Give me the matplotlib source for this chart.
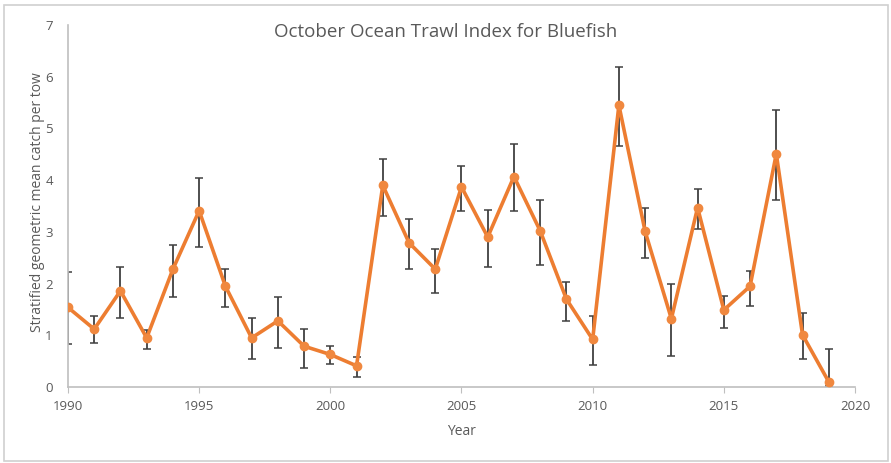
import numpy as np
import matplotlib.pyplot as plt
from matplotlib.patches import Rectangle

# October ocean trawl survey, bluefish index
years = np.arange(1990, 2020)
index = [1.54, 1.12, 1.86, 0.95, 2.28, 3.41, 1.95, 0.95, 1.28, 0.79,
         0.63, 0.41, 3.90, 2.79, 2.28, 3.87, 2.90, 4.07, 3.02, 1.70,
         0.92, 5.45, 3.01, 1.32, 3.47, 1.49, 1.95, 4.51, 1.01, 0.10]
upper = [2.22, 1.37, 2.32, 1.10, 2.75, 4.04, 2.29, 1.33, 1.74, 1.13,
         0.79, 0.58, 4.40, 3.24, 2.67, 4.28, 3.42, 4.69, 3.62, 2.04,
         1.37, 6.18, 3.46, 1.99, 3.83, 1.77, 2.24, 5.36, 1.43, 0.74]
lower = [0.83, 0.86, 1.33, 0.73, 1.75, 2.71, 1.55, 0.55, 0.75, 0.37,
         0.45, 0.19, 3.31, 2.29, 1.82, 3.41, 2.32, 3.40, 2.36, 1.28,
         0.43, 4.67, 2.50, 0.61, 3.05, 1.15, 1.57, 3.62, 0.54, 0.02]

index = np.array(index)
yerr = [index - np.array(lower), np.array(upper) - index]

plt.rcParams['font.family'] = ['Open Sans', 'DejaVu Sans']
grey = '#595959'

fig = plt.figure(figsize=(8.91, 4.63), dpi=100)
ax = fig.add_axes([0.0763, 0.164, 0.8833, 0.782])

ax.errorbar(years, index, yerr=yerr, fmt='none', ecolor='#404040',
            elinewidth=1.3, capsize=3, capthick=1.1, zorder=2)
ax.plot(years, index, color='#ED7D31', linewidth=2.6, marker='o',
        markersize=6, markerfacecolor='#F0883F', markeredgecolor='#F0883F',
        zorder=3)

ax.set_xlim(1990, 2020)
ax.set_ylim(0, 7)
ax.set_xticks(np.arange(1990, 2021, 5))
ax.set_yticks(np.arange(0, 8, 1))
for side in ['top', 'right']:
    ax.spines[side].set_visible(False)
for side in ['left', 'bottom']:
    ax.spines[side].set_color('#BFBFBF')
    ax.spines[side].set_linewidth(1.2)
ax.tick_params(axis='y', length=0, pad=11, labelsize=9.5, labelcolor=grey)
ax.tick_params(axis='x', length=4, color='#BFBFBF', pad=5, labelsize=9.5,
               labelcolor=grey)
ax.patch.set_alpha(0)

ax.set_xlabel('Year', fontsize=10, color=grey, labelpad=8)
ax.set_ylabel('Stratified geometric mean catch per tow', fontsize=10,
              color=grey)
ax.yaxis.set_label_coords(-0.029, 0.51)
fig.text(0.5, 0.93, 'October Ocean Trawl Index for Bluefish', ha='center',
         va='center', fontsize=13.5, color=grey)

fig.patches.append(Rectangle((0.0045, 0.004), 0.992, 0.985,
                             transform=fig.transFigure, fill=False,
                             edgecolor='#D0D0D0', linewidth=1.2))

fig.savefig('out.png', dpi=100)
